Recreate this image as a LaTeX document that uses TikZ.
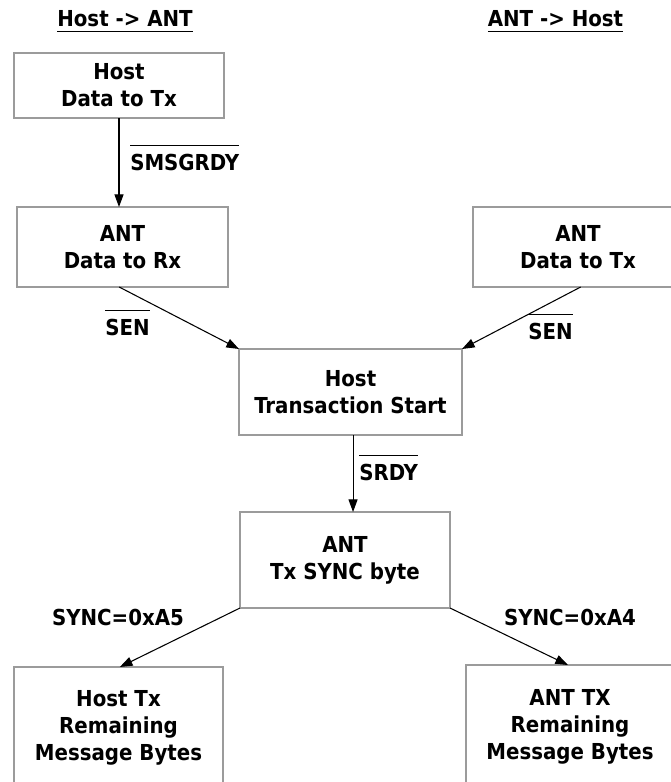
\documentclass[tikz,border=0pt]{standalone}
\usepackage{fontspec}
\setmainfont{DejaVu Sans Condensed}
\usetikzlibrary{arrows.meta,calc}
\definecolor{boxgray}{RGB}{155,155,155}
\newcommand\myovl[1]{\leavevmode\vbox{\hrule height 1.1pt\kern 5.6pt\hbox{#1}}}
\newcommand\myul[1]{\leavevmode\vtop{\hbox{#1}\kern 3.4pt\hrule height 1.1pt}}
\tikzset{
  every node/.style={font=\fontsize{16.5}{20.25}\selectfont\bfseries, text=black},
  box/.style={draw=boxgray, line width=2pt, fill=white, align=center, inner sep=0pt, outer sep=0pt},
  conn/.style={draw=black, line width=0.8pt, -{Triangle[length=9.5pt,width=6.8pt]}},
  lbl/.style={inner sep=0pt, anchor=base},
}
\begin{document}
\begin{tikzpicture}[x=0.75pt,y=-0.75pt]
\useasboundingbox (0,0) rectangle (671,782);
\fill[white] (0,0) rectangle (671,782);
\clip (0,0) rectangle (671,782);
% titles
\node[lbl] (t1) at (125,26) {\myul{Host -> ANT}};
\node[lbl] (t2) at (555.5,26) {\myul{ANT -> Host}};
% boxes
\node[box, minimum width=210*0.75pt, minimum height=65*0.75pt] (b1) at (119,85.5) {Host\\Data to Tx};
\node[box, minimum width=211*0.75pt, minimum height=80*0.75pt] (b2) at (122.5,247) {ANT\\Data to Rx};
\node[box, minimum width=210*0.75pt, minimum height=80*0.75pt] (b3) at (578,247) {ANT\\Data to Tx};
\node[box, minimum width=223*0.75pt, minimum height=86*0.75pt] (ts) at (350.5,392) {Host\\Transaction Start};
\node[box, minimum width=210*0.75pt, minimum height=96*0.75pt] (sync) at (345,560) {ANT\\Tx SYNC byte};
\node[box, minimum width=209*0.75pt, minimum height=122*0.75pt] (bl) at (118.5,728) {Host Tx\\Remaining\\Message Bytes};
\node[box, minimum width=208*0.75pt, minimum height=124*0.75pt] (br) at (570,727) {ANT TX\\Remaining\\Message Bytes};
% connectors
\draw[conn] (b1.south) -- (b1.south |- b2.north);
\draw[conn] ([xshift=-2.5pt]b2.south) -- (ts.north west);
\draw[conn] ([xshift=2pt]b3.south) -- (ts.north east);
\draw[conn] ([xshift=1.9pt]ts.south) -- ([xshift=1.9pt]ts.south |- sync.north);
\draw[conn] (sync.south west) -- ([xshift=1pt]bl.north);
\draw[conn] (sync.south east) -- ([xshift=-1.5pt]br.north);
% labels
\node[lbl, anchor=base west] (l1) at (130,170) {\myovl{SMSGRDY}};
\node[lbl, anchor=base west] (l2) at (105,335) {\myovl{SEN}};
\node[lbl, anchor=base west] (l3) at (528,339) {\myovl{SEN}};
\node[lbl, anchor=base west] (l4) at (359,480) {\myovl{SRDY}};
\node[lbl] (l5) at (118,625) {SYNC=0xA5};
\node[lbl] (l6) at (570,625) {SYNC=0xA4};
\end{tikzpicture}
\end{document}
